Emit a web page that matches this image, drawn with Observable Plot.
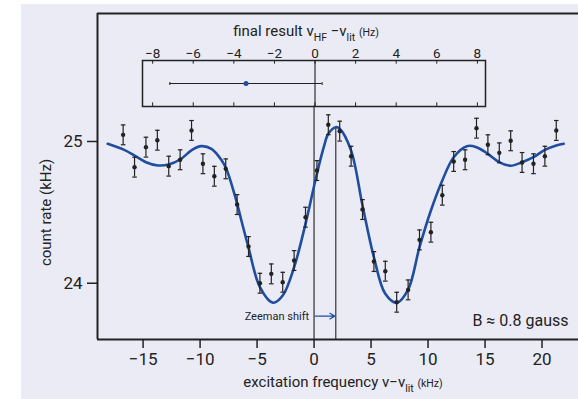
<!DOCTYPE html>
<html>
<head>
<meta charset="utf-8">
<script src="https://cdn.jsdelivr.net/npm/d3@7"></script>
<script src="https://cdn.jsdelivr.net/npm/@observablehq/plot@0.6"></script>
<style>
  html, body { margin: 0; padding: 0; background: #ffffff; }
  #chart { position: relative; width: 578px; height: 399px; overflow: hidden; }
  #panel { position: absolute; left: 21px; top: 4px; right: 0; bottom: 0; background: #ebebf6; }
  #chart svg { position: absolute; left: 0; top: 0; background: transparent; overflow: visible; }
</style>
</head>
<body>
<div id="chart"><div id="panel"></div></div>
<script>
// Measured count rate vs. excitation frequency (kHz relative to literature value)
const detuning = [
  -16.75, -15.75, -14.75, -13.75, -12.75, -11.75, -10.75, -9.75, -8.75, -7.75,
  -6.75, -5.75, -4.75, -3.75, -2.75, -1.75, -0.75, 0.25, 1.25, 2.25,
  3.25, 4.25, 5.25, 6.25, 7.25, 8.25, 9.25, 10.25, 11.25, 12.25,
  13.25, 14.25, 15.25, 16.25, 17.25, 18.25, 19.25, 20.25, 21.25
];
const countRate = [
  25.047, 24.819, 24.960, 25.009, 24.826, 24.871, 25.078, 24.843, 24.755, 24.807,
  24.555, 24.259, 24.000, 24.066, 24.007, 24.160, 24.466, 24.795, 25.118, 25.073,
  24.896, 24.520, 24.153, 24.085, 23.866, 23.953, 24.306, 24.360, 24.621, 24.859,
  24.871, 25.094, 24.977, 24.920, 25.005, 24.852, 24.843, 24.896, 25.078
];
const countErr = 0.07;

// Fitted line shape
const fitDetuning = [
  -18.1, -16.75, -15.75, -14.75, -13.7, -12.75, -11.75, -10.7, -9.9, -9.0,
  -8.1, -7.7, -6.75, -6.45, -5.75, -4.75, -3.6, -2.75, -1.75, -0.75,
  0.25, 0.85, 1.25, 1.9, 2.25, 3.25, 4.25, 5.25, 6.25, 7.25,
  8.25, 9.25, 10.25, 11.25, 12.25, 13.4, 14.25, 15.25, 16.25, 17.25,
  18.25, 19.25, 20.25, 21.25, 21.9
];
const fitRate = [
  24.984, 24.944, 24.901, 24.854, 24.831, 24.838, 24.873, 24.941, 24.967, 24.948,
  24.866, 24.807, 24.562, 24.466, 24.252, 23.972, 23.862, 23.913, 24.113, 24.419,
  24.772, 24.960, 25.054, 25.101, 25.090, 24.936, 24.548, 24.183, 23.925, 23.862,
  23.955, 24.254, 24.513, 24.725, 24.889, 24.967, 24.960, 24.913, 24.854, 24.829,
  24.854, 24.889, 24.941, 24.972, 24.984
];

const xTicks = [-15, -10, -5, 0, 5, 10, 15, 20];
const yTicks = [24, 25];
const zeemanShift = 1.9;     // kHz
const fieldLabel = "B ≈ 0.8 gauss";

// Final result of the hyperfine frequency (Hz)
const finalResult = -3.4;
const finalErr = 3.75;
const insetTicks = [-8, -6, -4, -2, 0, 2, 4, 6, 8];

const ink = "#222222";
const gray = "#555555";
const blue = "#1f4e9e";
const textFont = 'Roboto, "Liberation Sans", sans-serif';

const points = detuning.map((x, i) => ({x, y: countRate[i], e: countErr}));
const fit = fitDetuning.map((x, i) => ({x, y: fitRate[i]}));

const xDomain = [-19, 23.2];
const yDomain = [23.603, 25.903];
const insetBase = 25.25;   // level of the inset box's lower edge
const arrowLevel = 23.768;

// horizontal and vertical bar symbols for error-bar caps
const hCap = {draw(ctx, size) { const w = Math.sqrt(size / Math.PI); ctx.moveTo(-w, 0); ctx.lineTo(w, 0); }};
const vCap = {draw(ctx, size) { const w = Math.sqrt(size / Math.PI); ctx.moveTo(0, -w); ctx.lineTo(0, w); }};

const main = Plot.plot({
  width: 578,
  height: 399,
  marginTop: 13,
  marginBottom: 60,
  marginLeft: 97,
  marginRight: 0,
  style: {background: "transparent", fontFamily: textFont, color: ink, overflow: "visible"},
  x: {domain: xDomain},
  y: {domain: yDomain},
  marks: [
    Plot.ruleX([0], {y1: yDomain[0], y2: insetBase, stroke: gray, strokeWidth: 1.5}),
    Plot.ruleX([zeemanShift], {y1: yDomain[0], y2: 25.1, stroke: gray, strokeWidth: 1.5}),
    Plot.line(fit, {x: "x", y: "y", curve: "catmull-rom", stroke: blue, strokeWidth: 2.6}),
    Plot.ruleX(points, {x: "x", y1: d => d.y - d.e, y2: d => d.y + d.e, stroke: ink, strokeWidth: 1.2}),
    Plot.dot(points, {x: "x", y: d => d.y + d.e, symbol: hCap, r: 2.3, fill: "none", stroke: ink, strokeWidth: 1.2}),
    Plot.dot(points, {x: "x", y: d => d.y - d.e, symbol: hCap, r: 2.3, fill: "none", stroke: ink, strokeWidth: 1.2}),
    Plot.dot(points, {x: "x", y: "y", r: 2.2, fill: ink}),
    Plot.arrow([zeemanShift], {x1: 0, x2: d => d, y1: arrowLevel, y2: arrowLevel, stroke: blue, strokeWidth: 1.2, headLength: 7, insetStart: 1, insetEnd: 1}),
    Plot.text(["Zeeman shift"], {x: 0, y: arrowLevel, textAnchor: "end", lineAnchor: "middle", dx: -5, fontSize: 11, fill: ink}),
    Plot.text([fieldLabel], {frameAnchor: "bottom-right", textAnchor: "end", lineAnchor: "middle", dx: -10, dy: -19, fontSize: 16, fill: ink}),
    Plot.ruleY([yDomain[1]], {stroke: ink, strokeWidth: 2}),
    Plot.ruleY([yDomain[0]], {stroke: ink, strokeWidth: 2}),
    Plot.ruleX([xDomain[0]], {stroke: ink, strokeWidth: 2}),
    Plot.axisX({ticks: xTicks, tickSize: 9, tickPadding: 4, fontSize: 17, strokeWidth: 1.5, label: null}),
    Plot.axisY({ticks: yTicks, tickFormat: "d", tickSize: 10, tickPadding: 5, fontSize: 17, strokeWidth: 1.5, label: null}),
    Plot.text(["excitation frequency ν−ν_{lit} ~{(kHz)}"], {frameAnchor: "bottom", textAnchor: "middle", lineAnchor: "middle", dx: 5, dy: 43, fontSize: 15, fill: ink}),
    Plot.text(["count rate (kHz)"], {frameAnchor: "left", textAnchor: "middle", lineAnchor: "middle", rotate: -90, dx: -51, dy: 36, fontSize: 15, fill: ink})
  ]
});

const inset = Plot.plot({
  width: 578,
  height: 110,
  marginTop: 60,
  marginBottom: 4,
  marginLeft: 142,
  marginRight: 93,
  style: {background: "transparent", fontFamily: textFont, color: ink, overflow: "visible"},
  x: {domain: [-8.5, 8.4]},
  y: {domain: [0, 1], axis: null},
  marks: [
    Plot.ruleX([0], {stroke: gray, strokeWidth: 1.5}),
    Plot.ruleX(insetTicks, {y1: 1, y2: 0.92, stroke: ink, strokeWidth: 1}),
    Plot.ruleX(insetTicks, {y1: 0, y2: 0.08, stroke: ink, strokeWidth: 1}),
    Plot.frame({stroke: ink, strokeWidth: 1.5}),
    Plot.ruleY([finalResult], {x1: d => d - finalErr, x2: d => d + finalErr, y: () => 0.5, stroke: ink, strokeWidth: 1}),
    Plot.dot([finalResult - finalErr, finalResult + finalErr], {x: d => d, y: () => 0.5, symbol: vCap, r: 1.5, fill: "none", stroke: ink, strokeWidth: 1}),
    Plot.dot([finalResult], {x: d => d, y: () => 0.5, r: 2.5, fill: blue}),
    Plot.axisX({anchor: "top", ticks: insetTicks, tickSize: 0, tickPadding: 3, fontSize: 13.5, label: null}),
    Plot.text(["final result ν_{HF} −ν_{lit} ~{(Hz)}"], {frameAnchor: "top", textAnchor: "middle", lineAnchor: "middle", dx: -8, dy: -29, fontSize: 15, fill: ink})
  ]
});

const chart = document.getElementById("chart");
chart.appendChild(main);
chart.appendChild(inset);

// Render "_{..}" as subscripts and "~{..}" as smaller unit text
function richText(svg) {
  d3.select(svg).selectAll("text").each(function() {
    const s = this.textContent;
    if (!/[_~]\{/.test(s)) return;
    const size = parseFloat(getComputedStyle(this).fontSize) || 16;
    const parts = s.split(/([_~]\{[^}]*\})/).filter(p => p);
    this.textContent = "";
    let shift = 0;
    for (const p of parts) {
      const t = d3.select(this).append("tspan");
      if (p.startsWith("_{")) {
        const down = size * 0.28;
        t.text(p.slice(2, -1)).attr("font-size", size * 0.7).attr("dy", down - shift);
        shift = down;
      } else if (p.startsWith("~{")) {
        t.text(p.slice(2, -1)).attr("font-size", size * 0.7).attr("dy", -shift);
        shift = 0;
      } else {
        t.text(p).attr("dy", -shift);
        shift = 0;
      }
    }
  });
}
richText(main);
richText(inset);
</script>
</body>
</html>
